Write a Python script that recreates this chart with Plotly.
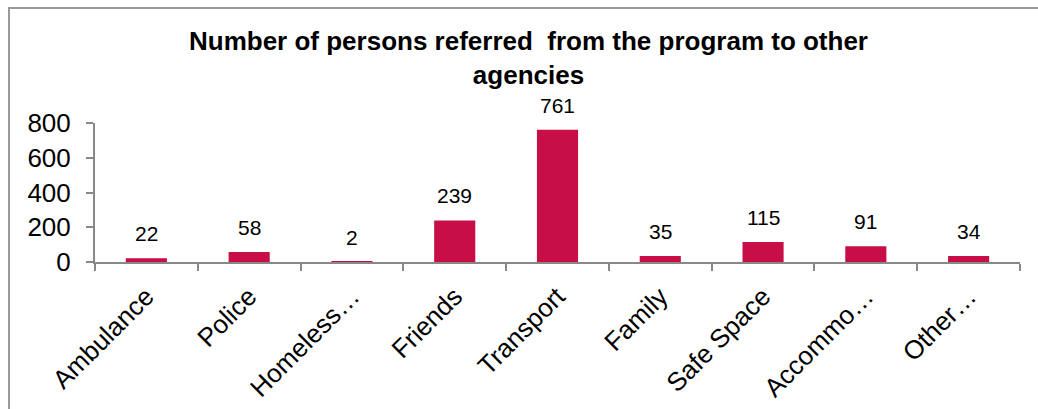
import plotly.graph_objects as go

categories = ["Ambulance", "Police", "Homeless…", "Friends", "Transport",
              "Family", "Safe Space", "Accommo…", "Other…"]
referrals = [22, 58, 2, 239, 761, 35, 115, 91, 34]
y_ticks = [0, 200, 400, 600, 800]
title_text = "Number of persons referred  from the program to other<br>agencies"

BAR_COLOR = "#C70E46"
AXIS_COLOR = "#888888"
FONT = "Arial, Liberation Sans, sans-serif"

# plot area in pixels: y axis at x=95, value 0 at y=262, value 800 at y=123
PLOT_TOP, PLOT_BOTTOM = 123, 262
PLOT_H = PLOT_BOTTOM - PLOT_TOP


def paper_y(px):
    return (PLOT_BOTTOM - px) / PLOT_H


fig = go.Figure(go.Bar(
    x=categories,
    y=referrals,
    marker=dict(color=BAR_COLOR, line=dict(width=0)),
    hoverinfo="x+y",
))

# value labels above each bar
for cat, val in zip(categories, referrals):
    fig.add_annotation(
        x=cat, y=val, text=str(val), showarrow=False,
        yanchor="bottom", yshift=11,
        font=dict(family=FONT, size=21, color="#000000"),
    )

# two-line bold title
fig.add_annotation(
    xref="paper", yref="paper",
    x=(528 - 95) / 925, y=paper_y(58),
    xanchor="center", yanchor="middle",
    text=f"<b>{title_text}</b>", showarrow=False,
    font=dict(family=FONT, size=26, color="#000000"),
)

# outer chart frame
fig.add_shape(
    type="rect", xref="paper", yref="paper",
    x0=(9 - 95) / 925, x1=1.5, y0=-2.0, y1=paper_y(8),
    line=dict(color="#9a9a9a", width=2), fillcolor="rgba(0,0,0,0)",
    layer="below",
)

fig.update_layout(
    width=1038, height=409,
    margin=dict(l=95, r=18, t=PLOT_TOP, b=409 - PLOT_BOTTOM),
    paper_bgcolor="white", plot_bgcolor="white",
    bargap=0.6,
    showlegend=False,
    xaxis=dict(
        showline=True, linecolor=AXIS_COLOR, linewidth=2,
        ticks="outside", tickson="boundaries", ticklen=7,
        tickcolor=AXIS_COLOR, tickwidth=2,
        tickangle=-45, showgrid=False, ticklabelstandoff=7,
        automargin=False,
        tickfont=dict(family=FONT, size=26, color="#000000"),
    ),
    yaxis=dict(
        range=[0, 800], tickvals=y_ticks,
        showline=True, linecolor=AXIS_COLOR, linewidth=2,
        ticks="outside", ticklen=7, tickcolor=AXIS_COLOR, tickwidth=2,
        showgrid=False, zeroline=False, ticklabelstandoff=10,
        automargin=False,
        tickfont=dict(family=FONT, size=26, color="#000000"),
    ),
)

fig.write_html("out.html")
